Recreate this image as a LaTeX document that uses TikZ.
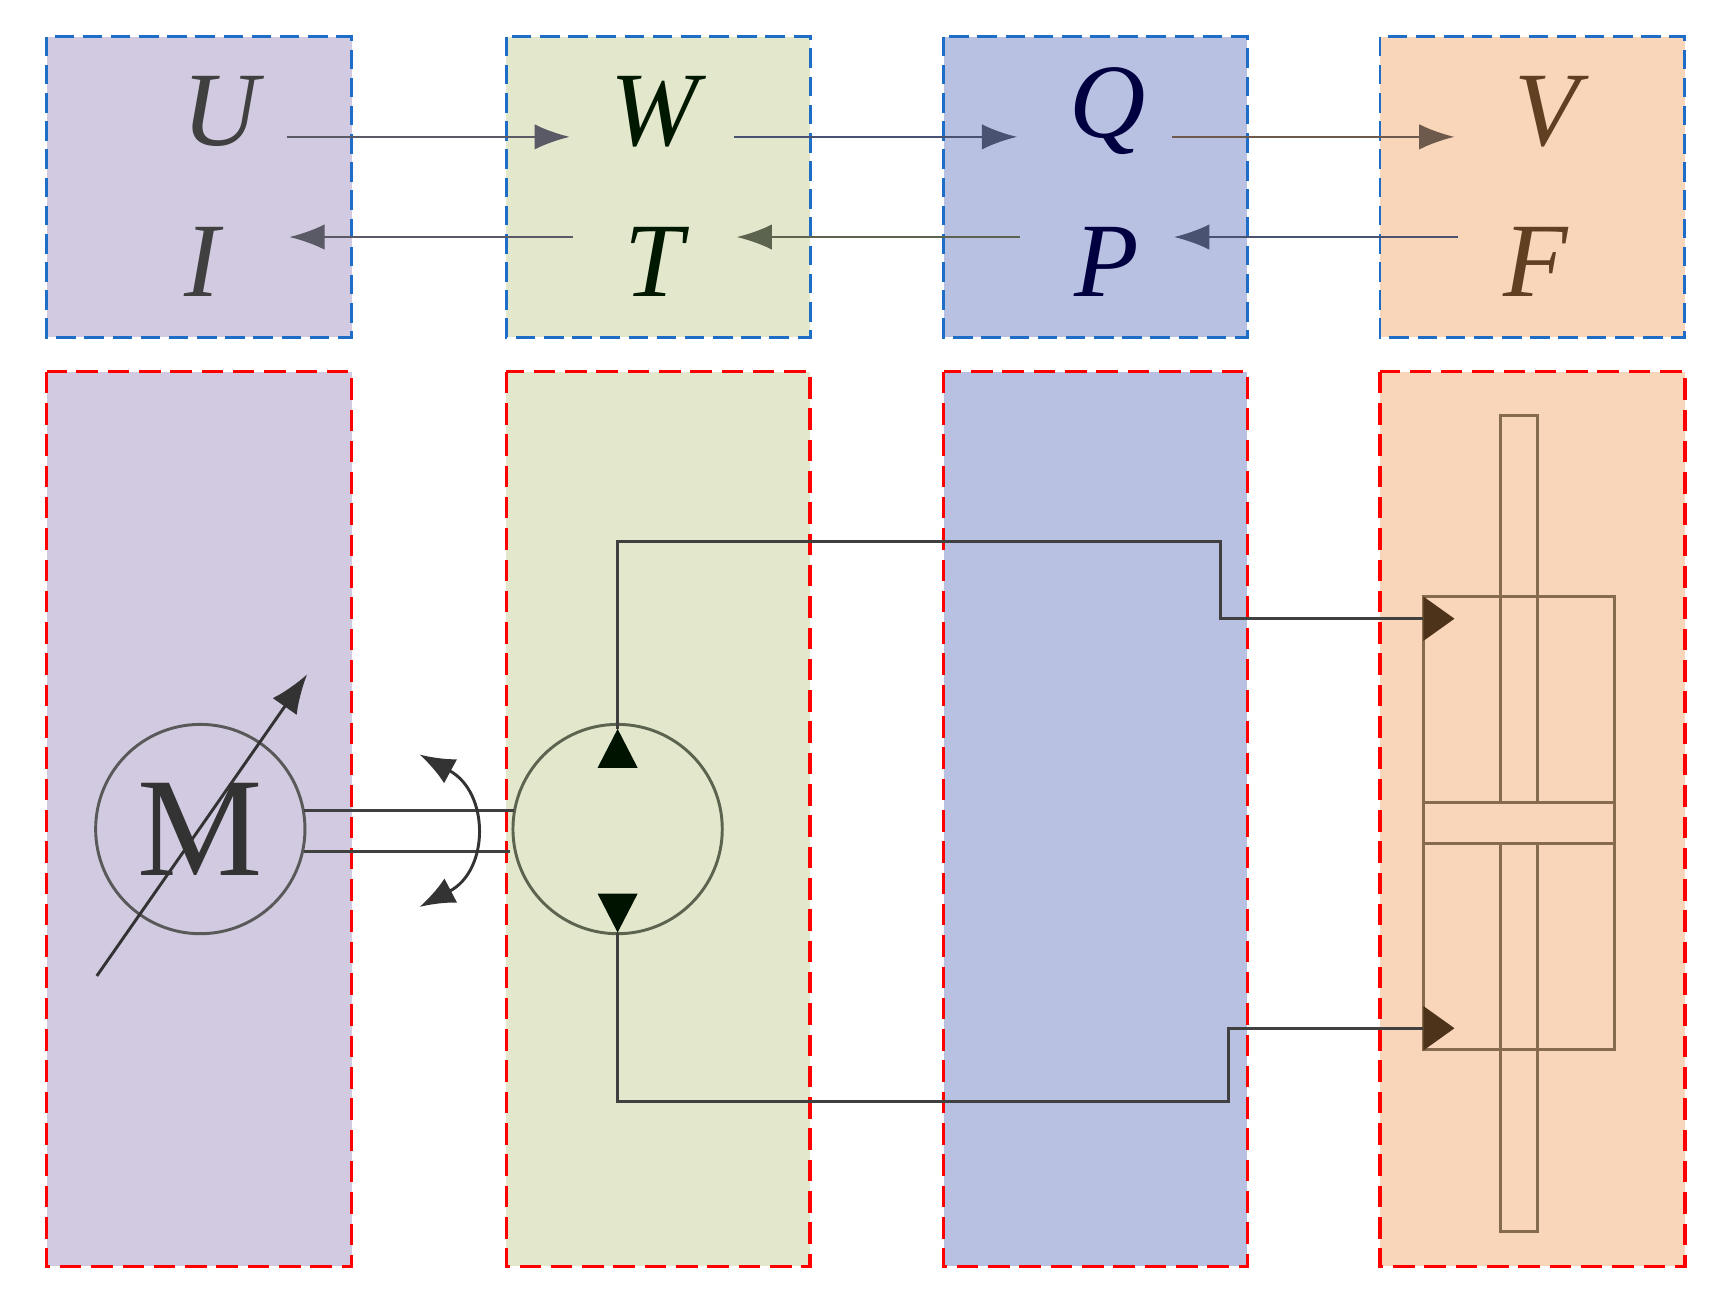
\documentclass[tikz,border=0pt]{standalone}
\usepackage{fontspec}
\setmainfont{Liberation Serif}
\usetikzlibrary{arrows.meta}
\begin{document}
\begin{tikzpicture}[x=0.01cm,y=-0.01cm,
 topbox/.style={draw={rgb,255:red,30;green,110;blue,200},dash pattern=on 5pt off 2.2pt,line width=0.7pt},
 botbox/.style={draw=red,dash pattern=on 5.5pt off 2.5pt,line width=0.9pt},
 var/.style={font=\fontsize{27}{27}\selectfont\itshape},
 flow/.style={line width=0.6pt,-{Latex[length=9pt,width=6.5pt]}},
 pipe/.style={line width=0.75pt,draw=black!75}]
\definecolor{cpur}{HTML}{D2CAE0}\definecolor{cgrn}{HTML}{E3E8CC}
\definecolor{cblu}{HTML}{B9C1E3}\definecolor{cora}{HTML}{F9D5BA}
\definecolor{aBlu}{HTML}{4A5272}\definecolor{aBrn}{HTML}{6E5A4C}
\definecolor{aOl}{HTML}{5C6450}\definecolor{aGr}{HTML}{5A5A66}
\useasboundingbox (0,0) rectangle (1560,1161);
\foreach \c/\xa/\xb/\n in {cpur/42/316/a,cgrn/455/728/b,cblu/848/1121/c,cora/1240/1514/d}{
 \fill[\c] (\xa,33) rectangle (\xb,303);
 \draw[topbox] (\xa,33) rectangle (\xb,303);
 \fill[\c] (\xa,334) rectangle (\xb,1138);
 \draw[botbox] (\xa,334) rectangle (\xb,1138);}
\node[var,text=black!75] (U) at (198,100) {U};
\node[var,text=black!75] (I) at (182,235) {I};
\node[var,text=black!70!green!30!black] (W) at (588,100) {W};
\node[var,text=black!70!green!30!black] (T) at (588,235) {T};
\node[var,text=blue!25!black] (Q) at (995,100) {Q};
\node[var,text=blue!25!black] (P) at (995,235) {P};
\node[var,text=brown!50!black] (V) at (1390,100) {V};
\node[var,text=brown!50!black] (F) at (1380,235) {F};
\coordinate (u1) at (258,123); \coordinate (w0) at (512,123);
\coordinate (w1) at (660,123); \coordinate (q0) at (914,123);
\coordinate (q1) at (1053,123); \coordinate (v0) at (1307,123);
\coordinate (f1) at (1310,213); \coordinate (p0) at (1055,213);
\coordinate (p1) at (917,213); \coordinate (t0) at (662,213);
\coordinate (t1) at (515,213); \coordinate (i0) at (260,213);
\draw[flow,draw=aGr] (u1)--(w0);
\draw[flow,draw=aBlu] (w1)--(q0);
\draw[flow,draw=aBrn] (q1)--(v0);
\draw[flow,draw=aBlu] (f1)--(p0);
\draw[flow,draw=aOl] (p1)--(t0);
\draw[flow,draw=aGr] (t1)--(i0);
% motor
\node[circle,draw=black!65,line width=0.75pt,minimum size=1.88cm,inner sep=0pt,text=black!80,font=\fontsize{36}{36}\selectfont] (M) at (180,745) {M};
\coordinate (ma) at (87,877); \coordinate (mb) at (276,606);
\draw[line width=0.75pt,black!80,-{Latex[length=10pt,width=7.5pt]}] (ma)--(mb);
% pump
\node[circle,draw=aOl,line width=0.75pt,minimum size=1.88cm,inner sep=0pt] (Pm) at (555,745) {};
\coordinate (s1a) at (273,728); \coordinate (s1b) at (462,728);
\coordinate (s2a) at (273,765); \coordinate (s2b) at (458,765);
\draw[pipe] (s1a)--(s1b); \draw[pipe] (s2a)--(s2b);
\draw[line width=0.75pt,black!80,{Latex[length=9pt,width=7pt]}-{Latex[length=9pt,width=7pt]}] (377,678) .. controls (440,712) and (440,782) .. (377,815);
\fill[black!70!green!25!black] (555,655)--(537,690)--(573,690)--cycle;
\fill[black!70!green!25!black] (555,838)--(537,803)--(573,803)--cycle;
% cylinder
\begin{scope}[draw=brown!55!black!80,line width=0.75pt]
\draw (1279,536) rectangle (1451,943);
\draw (1279,721) rectangle (1451,758);
\draw (1348,721) -- (1348,373) -- (1382,373) -- (1382,721);
\draw (1348,758) -- (1348,1107) -- (1382,1107) -- (1382,758);
\end{scope}
\coordinate (c1) at (1279,556); \coordinate (c2) at (1279,924);
\draw[pipe] (555,655)--(555,487)--(1097,487)--(1097,556)--(c1);
\draw[pipe] (555,838)--(555,990)--(1104,990)--(1104,924)--(c2);
\fill[brown!40!black] (1307,556)--(1279,536)--(1279,576)--cycle;
\fill[brown!40!black] (1307,924)--(1279,904)--(1279,944)--cycle;
\end{tikzpicture}
\end{document}
